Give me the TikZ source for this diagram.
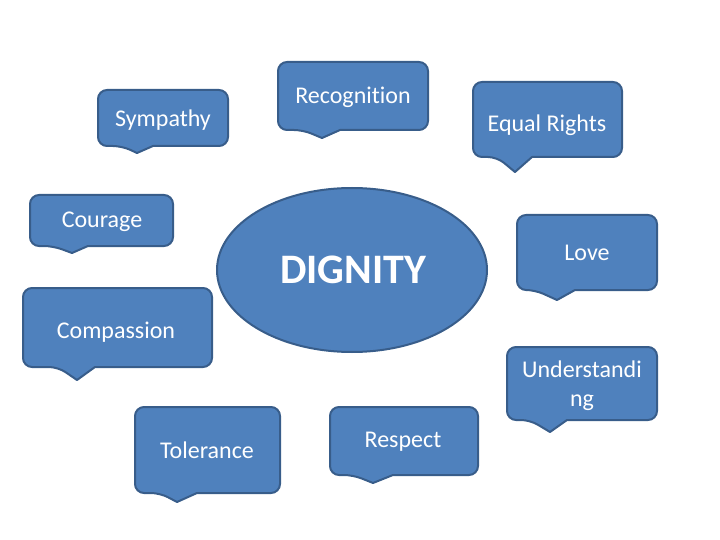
\documentclass[tikz,border=0pt]{standalone}
\usepackage{fontspec}
\setmainfont[Ligatures=NoCommon]{Carlito}
\usetikzlibrary{shapes.geometric}
\definecolor{boxfill}{HTML}{4F81BD}
\definecolor{boxline}{HTML}{385D8A}
\newcommand\cbox[8]{% x1 y1 x2 y2 pa tipx pb tipy
  \draw[cboxstyle, rounded corners=9pt] (#1,{(#2+#4)/2}) -- (#1,#4) -- (#5,#4) [sharp corners] -- (#6,#8) -- (#7,#4) [rounded corners=9pt] -- (#3,#4) -- (#3,#2) -- (#1,#2) -- cycle;}
\begin{document}
\begin{tikzpicture}[x=1pt,y=-1pt,
  cboxstyle/.style={fill=boxfill, draw=boxline, line width=2pt, line join=round},
  lbl/.style={text=white, font=\fontsize{24}{29}\selectfont, inner sep=0pt, align=center}]
\useasboundingbox (0,0) rectangle (720,540);
% callout boxes
\cbox{98}{90}{228}{146}{122}{137}{153}{153}
\cbox{278}{62}{428}{130}{303}{322}{340}{138}
\cbox{473}{82}{622}{157}{497}{515}{532}{172}
\cbox{30}{195}{173}{246}{53}{72}{88}{253}
\cbox{23}{288}{212}{367}{58}{77}{95}{380}
\cbox{517}{215}{657}{290}{535}{557}{575}{300}
\cbox{507}{347}{657}{420}{530}{550}{567}{432}
\cbox{135}{407}{280}{493}{160}{177}{197}{502}
\cbox{330}{407}{478}{475}{353}{373}{393}{483}
% central ellipse
\node[ellipse, draw=boxline, fill=boxfill, line width=2pt, minimum width=270pt, minimum height=164pt, inner sep=0pt] (dignity) at (352,270) {};
\node[text=white, font=\fontsize{42}{50}\selectfont\bfseries, inner sep=0pt] (dignitytext) at (353,270) {DIGNITY};
% labels
\node[lbl] (sympathy) at (163,120) {Sympathy};
\node[lbl] (recognition) at (353,97) {Recognition};
\node[lbl] (equal) at (547,125) {Equal Rights};
\node[lbl] (courage) at (102,222) {Courage};
\node[lbl] (compassion) at (116,332) {Compassion};
\node[lbl] (love) at (587,253) {Love};
\node[lbl] (understanding) at (582,386) {Understandi\\ng};
\node[lbl] (tolerance) at (207,450) {Tolerance};
\node[lbl] (respect) at (403,442) {Respect};
\end{tikzpicture}
\end{document}
